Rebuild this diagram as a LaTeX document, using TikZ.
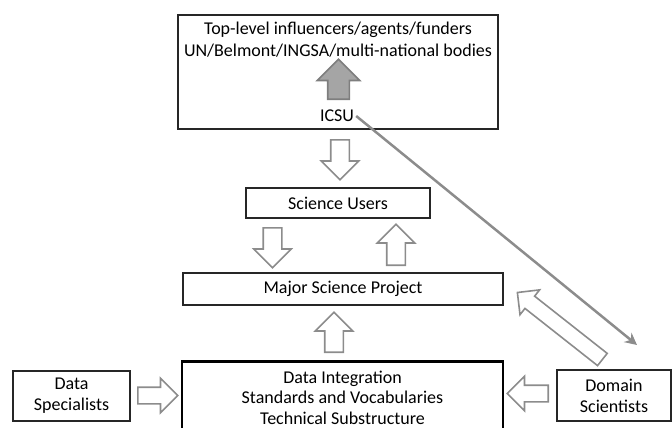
\documentclass[tikz,border=0pt]{standalone}
\usepackage{fontspec}
\setmainfont{Carlito}
\usetikzlibrary{arrows.meta,shapes.arrows,calc}

\definecolor{boxline}{HTML}{262626}
\definecolor{arrowgray}{HTML}{8C8C8C}
\definecolor{fillgray}{HTML}{A5A5A5}

\newcommand{\labelfont}{\fontsize{18}{21}\selectfont}
% hollow block arrow from #2 to #3
\newcommand{\fatarrow}[3][]{%
  \path let \p1=($(#3)-(#2)$), \n1={atan2(\y1,\x1)}, \n2={veclen(\x1,\y1)} in
    node[fat, #1, rotate=\n1, minimum height=\n2, anchor=tail] at (#2) {};}

\tikzset{
  box/.style={draw=boxline, line width=1.2pt, inner sep=0pt, align=center, font=\labelfont},
  txt/.style={inner sep=0pt, align=center, font=\labelfont},
  fat/.style={single arrow, draw=arrowgray, line width=1.6pt, fill=white,
              inner xsep=0pt, inner ysep=8.5pt, single arrow head extend=9.5pt}
}

\begin{document}
\begin{tikzpicture}[x=1pt, y=-1pt]
  \useasboundingbox (0,0) rectangle (672,428);

  \node[box, minimum width=320pt, minimum height=114pt] (top) at (338,72) {};
  \node[txt, font=\fontsize{18}{22}\selectfont] (bodies) at (338,40) {Top-level influencers/agents/funders\\UN/Belmont/INGSA/multi-national bodies};
  \node[txt, inner sep=2pt] (icsu) at (337,116) {ICSU};
  \node[box, minimum width=184pt, minimum height=30pt] (users) at (338,203) {Science Users};
  \node[box, minimum width=320pt, minimum height=32pt] (major) at (343,289) {Major Science Project};
  \node[box, draw=black, line width=2.5pt, minimum width=321pt, minimum height=80pt, anchor=north]
       (integ) at (342.5,360) {};
  \node[txt, font=\fontsize{18}{20.5}\selectfont] (layers) at (342.5,397.5) {Data Integration\\Standards and Vocabularies\\Technical Substructure};
  \node[box, minimum width=117pt, minimum height=50pt] (dspec) at (71.5,396) {Data\\Specialists};
  \node[box, minimum width=114pt, minimum height=51pt] (dsci) at (614,395.5) {Domain\\Scientists};

  % ends of the block arrows
  \coordinate (i0) at (338.5,100);  \coordinate (i1) at (338.5,60);
  \coordinate (t0) at (340,139);    \coordinate (t1) at (340,179);
  \coordinate (u0) at (272.5,227);  \coordinate (u1) at (272.5,267);
  \coordinate (m0) at (396,266);    \coordinate (m1) at (396,225);
  \coordinate (g0) at (334,353);    \coordinate (g1) at (334,313);
  \coordinate (s0) at (137,395.5);  \coordinate (s1) at (177,395.5);
  \coordinate (d0) at (549,393.5);  \coordinate (d1) at (508,393.5);
  \coordinate (k0) at (603,360);    \coordinate (k1) at (518,293);
  \coordinate (dtop) at (637,345);

  \fatarrow[fill=fillgray, draw=arrowgray!90!black, inner ysep=10pt, single arrow head extend=10.5pt]{i0}{i1}
  \fatarrow{t0}{t1}
  \fatarrow{u0}{u1}
  \fatarrow{m0}{m1}
  \fatarrow{g0}{g1}
  \fatarrow[inner ysep=7.5pt, single arrow head extend=9pt]{s0}{s1}
  \fatarrow[inner ysep=7.5pt, single arrow head extend=9pt]{d0}{d1}
  \fatarrow[inner ysep=7pt, single arrow head extend=8pt]{k0}{k1}

  \draw[arrowgray, line width=2.5pt, -{Stealth[length=12pt, width=12pt]}] (icsu.east) -- (dtop);
\end{tikzpicture}
\end{document}
